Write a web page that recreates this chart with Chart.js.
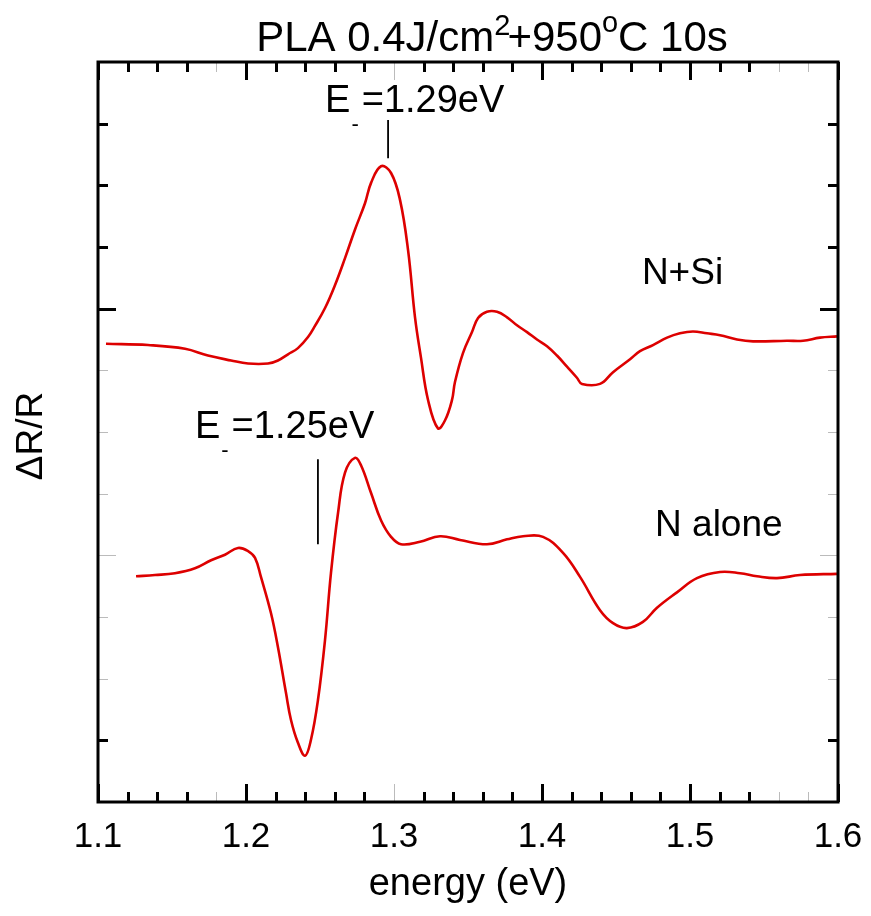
<!DOCTYPE html>
<html>
<head>
<meta charset="utf-8">
<script src="https://cdn.jsdelivr.net/npm/chart.js@4.4.1/dist/chart.umd.min.js"></script>
<style>
  html, body { margin: 0; padding: 0; background: #fff; }
  #wrap { width: 871px; height: 916px; }
</style>
</head>
<body>
<div id="wrap"><canvas id="chart" width="871" height="916"></canvas></div>
<script>
// ================= DATA =================

// N+Si curve (energy in eV, dR/R in arbitrary tick units)
const energyNSi = [1.1054, 1.1338, 1.1588, 1.1743, 1.1899, 1.2014, 1.2149, 1.2216, 1.2284, 1.2351,
  1.2419, 1.2466, 1.2534, 1.2601, 1.2669, 1.2736, 1.2804, 1.2845, 1.2912, 1.2980,
  1.3041, 1.3095, 1.3142, 1.3182, 1.3230, 1.3297, 1.3345, 1.3392, 1.3412, 1.3466,
  1.3527, 1.3568, 1.3628, 1.3696, 1.3764, 1.3831, 1.3899, 1.3966, 1.4034, 1.4101,
  1.4169, 1.4236, 1.4270, 1.4392, 1.4480, 1.4595, 1.4662, 1.4750, 1.4845, 1.4932,
  1.5020, 1.5115, 1.5203, 1.5318, 1.5426, 1.5655, 1.5764, 1.5878, 1.5993];
const signalNSi = [7.43, 7.41, 7.35, 7.24, 7.16, 7.11, 7.11, 7.16, 7.26, 7.36,
  7.54, 7.72, 8.01, 8.38, 8.82, 9.28, 9.71, 10.04, 10.31, 10.20,
  9.76, 8.95, 7.86, 7.21, 6.52, 6.06, 6.19, 6.52, 6.81, 7.28,
  7.62, 7.85, 7.95, 7.95, 7.86, 7.73, 7.62, 7.50, 7.39, 7.24,
  7.06, 6.88, 6.78, 6.78, 6.97, 7.18, 7.31, 7.41, 7.53, 7.60,
  7.63, 7.60, 7.57, 7.50, 7.47, 7.48, 7.48, 7.53, 7.55];

// N alone curve
const energyN = [1.1257, 1.1385, 1.1520, 1.1655, 1.1764, 1.1858, 1.1946, 1.2014, 1.2061, 1.2101,
  1.2169, 1.2216, 1.2270, 1.2304, 1.2351, 1.2399, 1.2439, 1.2486, 1.2534, 1.2574,
  1.2622, 1.2669, 1.2736, 1.2777, 1.2845, 1.2912, 1.2980, 1.3047, 1.3176, 1.3311,
  1.3446, 1.3628, 1.3764, 1.3872, 1.4007, 1.4142, 1.4257, 1.4392, 1.4480, 1.4574,
  1.4682, 1.4777, 1.4912, 1.5047, 1.5203, 1.5338, 1.5453, 1.5588, 1.5743, 1.5993];
const signalN = [3.66, 3.68, 3.71, 3.79, 3.92, 4.01, 4.12, 4.07, 3.96, 3.65,
  3.06, 2.51, 1.77, 1.33, 0.96, 0.75, 1.01, 1.65, 2.63, 3.71,
  4.69, 5.34, 5.58, 5.46, 5.01, 4.57, 4.30, 4.18, 4.22, 4.31,
  4.25, 4.18, 4.26, 4.31, 4.30, 4.04, 3.65, 3.11, 2.90, 2.82,
  2.92, 3.15, 3.40, 3.63, 3.73, 3.71, 3.66, 3.63, 3.68, 3.70];

// transition markers
const markerEnergy = [1.296, 1.2486];
const markerTop = [11.06, 5.56];
const markerBottom = [10.44, 4.18];
const markerText = ["=1.29eV", "=1.25eV"];
const markerTextPos = [[1.2534, 11.19], [1.1655, 5.90]];

// curve names
const curveNames = ["N+Si", "N alone"];
const curveNamePos = [[1.4675, 8.40], [1.4764, 4.31]];

// ticks
const xTickLabels = ["1.1", "1.2", "1.3", "1.4", "1.5", "1.6"];
const xGrayTicks = [1.18, 1.30, 1.56, 1.58];
const yTicks = [1, 2, 3, 4, 5, 6, 7, 8, 9, 10, 11];
const yLongTicks = [4, 8];
const yGrayTicks = [2, 3, 4, 5, 6, 7];

const RED = "#dd0000";
const FONT = "'Liberation Sans', Arial, Helvetica, sans-serif";

Chart.defaults.font.family = FONT;
Chart.defaults.color = "#000";


// ================= HELPERS =================

function toPoints(xs, ys) {
  return xs.map((v, i) => ({ x: v, y: ys[i] }));
}

// text made of pieces, each with own size and vertical shift
function richWidth(ctx, parts) {
  let w = 0;
  parts.forEach(p => {
    ctx.font = p.s + "px " + FONT;
    w += ctx.measureText(p.t).width + (p.k || 0);
  });
  return w;
}

function drawRich(ctx, x, y, parts) {
  ctx.textAlign = "left";
  ctx.textBaseline = "alphabetic";
  parts.forEach(p => {
    ctx.font = p.s + "px " + FONT;
    ctx.fillText(p.t, x, y + (p.dy || 0));
    x += ctx.measureText(p.t).width + (p.k || 0);
  });
}


// ================= FRAME, TICKS, TEXT =================

const framePlugin = {
  id: "framePlugin",
  afterDraw(chart) {
    const ctx = chart.ctx;
    const a = chart.chartArea;
    const xs = chart.scales.x;
    const ys = chart.scales.y;

    ctx.save();
    ctx.lineCap = "butt";

    const near = (v, arr) => arr.some(t => Math.abs(t - v) < 1e-6);

    // x ticks, inward, bottom and top
    for (let i = 0; i <= 25; i++) {
      const v = Math.round((1.1 + i * 0.02) * 100) / 100;
      const px = Math.round(xs.getPixelForValue(v)) + 0.5;
      const major = i % 5 === 0;
      const len = major ? 18 : 10;
      const gray = near(v, xGrayTicks);
      ctx.strokeStyle = gray ? "#bbbbbb" : "#000";
      ctx.lineWidth = gray ? 1 : 3;
      ctx.beginPath();
      ctx.moveTo(px, a.bottom);
      ctx.lineTo(px, a.bottom - len);
      ctx.moveTo(px, a.top);
      ctx.lineTo(px, a.top + len);
      ctx.stroke();
    }

    // y ticks, inward, left and right
    yTicks.forEach(v => {
      const py = Math.round(ys.getPixelForValue(v)) + 0.5;
      const len = near(v, yLongTicks) ? 18 : 10;
      const gray = near(v, yGrayTicks);
      ctx.strokeStyle = gray ? "#bbbbbb" : "#000";
      ctx.lineWidth = gray ? 1 : 3;
      ctx.beginPath();
      ctx.moveTo(a.left, py);
      ctx.lineTo(a.left + len, py);
      ctx.moveTo(a.right, py);
      ctx.lineTo(a.right - len, py);
      ctx.stroke();
    });

    // frame
    ctx.strokeStyle = "#000";
    ctx.lineWidth = 3;
    ctx.strokeRect(a.left, a.top, a.right - a.left, a.bottom - a.top);

    ctx.fillStyle = "#000";

    // title
    const title = [
      { t: "PLA 0.4J/cm", s: 42 },
      { t: "2", s: 29, dy: -16, k: -3 },
      { t: "+950", s: 42 },
      { t: "o", s: 29, dy: -19 },
      { t: "C 10s", s: 42 }
    ];
    const tw = richWidth(ctx, title);
    drawRich(ctx, 492 - tw / 2, 51, title);

    // marker labels
    markerText.forEach((txt, i) => {
      const px = xs.getPixelForValue(markerTextPos[i][0]);
      const py = ys.getPixelForValue(markerTextPos[i][1]);
      drawRich(ctx, px, py, [
        { t: "E", s: 38, k: 1 },
        { t: "-", s: 22, dy: 19, k: 3 },
        { t: txt, s: 38 }
      ]);
    });

    // curve names
    curveNames.forEach((txt, i) => {
      const px = xs.getPixelForValue(curveNamePos[i][0]);
      const py = ys.getPixelForValue(curveNamePos[i][1]);
      drawRich(ctx, px, py, [{ t: txt, s: 37 }]);
    });

    // y axis title
    ctx.translate(32, 436);
    ctx.rotate(-Math.PI / 2);
    ctx.font = "37px " + FONT;
    ctx.textAlign = "center";
    ctx.textBaseline = "middle";
    ctx.fillText("\u0394R/R", 0, 0);

    ctx.restore();
  }
};


// ================= CHART =================

const datasets = [
  {
    label: curveNames[0],
    data: toPoints(energyNSi, signalNSi),
    borderColor: RED,
    borderWidth: 2.6,
    pointRadius: 0,
    tension: 0.4,
    fill: false
  },
  {
    label: curveNames[1],
    data: toPoints(energyN, signalN),
    borderColor: RED,
    borderWidth: 2.6,
    pointRadius: 0,
    tension: 0.4,
    fill: false
  }
];

markerEnergy.forEach((e, i) => {
  datasets.push({
    label: "marker" + i,
    data: [{ x: e, y: markerTop[i] }, { x: e, y: markerBottom[i] }],
    borderColor: "#000",
    borderWidth: 1.8,
    pointRadius: 0,
    fill: false
  });
});

new Chart(document.getElementById("chart").getContext("2d"), {
  type: "line",
  data: { datasets: datasets },
  options: {
    responsive: false,
    animation: false,
    devicePixelRatio: 1,
    layout: { padding: { left: 98, right: 33, top: 62, bottom: 0 } },
    plugins: {
      legend: { display: false },
      tooltip: { enabled: false }
    },
    scales: {
      x: {
        type: "linear",
        min: 1.1,
        max: 1.6,
        grid: { display: false, drawTicks: false },
        border: { display: false },
        afterBuildTicks(scale) {
          scale.ticks = xTickLabels.map(t => ({ value: parseFloat(t) }));
        },
        afterFit(scale) {
          scale.height = 114;
          scale.paddingLeft = 0;
          scale.paddingRight = 0;
        },
        ticks: {
          padding: 14,
          color: "#000",
          font: { size: 35 },
          callback: (v) => Number(v).toFixed(1)
        },
        title: {
          display: true,
          text: "energy (eV)",
          color: "#000",
          font: { size: 38 },
          padding: { top: 0, bottom: 9 }
        }
      },
      y: {
        type: "linear",
        min: 0,
        max: 12,
        display: false
      }
    }
  },
  plugins: [framePlugin]
});
</script>
</body>
</html>
